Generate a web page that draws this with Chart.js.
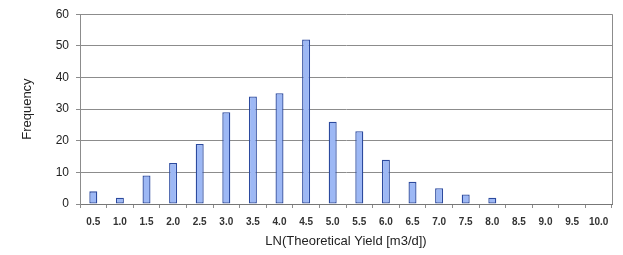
<!DOCTYPE html>
<html>
<head>
<meta charset="utf-8">
<script src="https://cdn.jsdelivr.net/npm/chart.js@4"></script>
<style>
  body { margin: 0; background: #fff; }
  #wrap { width: 623px; height: 255px; }
</style>
</head>
<body>
<div id="wrap"><canvas id="chart" width="623" height="255"></canvas></div>
<script>
var bins = ['0.5','1.0','1.5','2.0','2.5','3.0','3.5','4.0','4.5','5.0',
            '5.5','6.0','6.5','7.0','7.5','8.0','8.5','9.0','9.5','10.0'];
var frequency = [4, 2, 9, 13, 19, 29, 34, 35, 52, 26, 23, 14, 7, 5, 3, 2, 0, 0, 0, 0];
var yTicks = [0, 10, 20, 30, 40, 50, 60];

var gridGray = '#8c8c8c';

// right border of the plot area
var frameRight = {
  id: 'frameRight',
  afterDraw: function(chart) {
    var a = chart.chartArea, ctx = chart.ctx;
    ctx.save();
    ctx.strokeStyle = gridGray;
    ctx.lineWidth = 1;
    ctx.beginPath();
    ctx.moveTo(Math.round(a.right) + 0.5, a.top);
    ctx.lineTo(Math.round(a.right) + 0.5, a.bottom);
    ctx.stroke();
    ctx.restore();
  }
};

var ctx = document.getElementById('chart').getContext('2d');
var chart = new Chart(ctx, {
  type: 'bar',
  data: {
    labels: bins,
    datasets: [{
      label: 'Frequency',
      data: frequency,
      backgroundColor: '#9db8f5',
      borderColor: '#2c4a9e',
      borderWidth: 1.3,
      borderSkipped: false,
      categoryPercentage: 1.0,
      barPercentage: 0.3
    }]
  },
  options: {
    responsive: false,
    animation: false,
    layout: { padding: { top: 14, right: 11, left: 0, bottom: 0 } },
    plugins: { legend: { display: false }, tooltip: { enabled: false } },
    scales: {
      x: {
        afterFit: function(scale) { scale.height = 51; },
        grid: { display: true, drawOnChartArea: false, drawTicks: true, tickLength: 4, color: gridGray, offset: true },
        border: { display: true, color: '#777' },
        ticks: { color: '#333', font: { family: 'Arial', size: 10, weight: 'bold' }, padding: 8, maxRotation: 0, autoSkip: false },
        title: { display: true, text: 'LN(Theoretical Yield [m3/d])', color: '#222',
                 font: { family: 'Arial', size: 13 }, padding: { top: 0, bottom: 6 } }
      },
      y: {
        min: 0, max: 60,
        afterFit: function(scale) { scale.width = 80; },
        afterBuildTicks: function(scale) { scale.ticks = yTicks.map(function(v) { return { value: v }; }); },
        grid: { color: gridGray, tickLength: 4 },
        border: { display: true, color: gridGray },
        ticks: { color: '#222', font: { family: 'Arial', size: 12 }, padding: 7 },
        title: { display: true, text: 'Frequency', color: '#222',
                 font: { family: 'Arial', size: 13 }, padding: { top: 20, bottom: 0 } }
      }
    }
  },
  plugins: [frameRight]
});
</script>
</body>
</html>
